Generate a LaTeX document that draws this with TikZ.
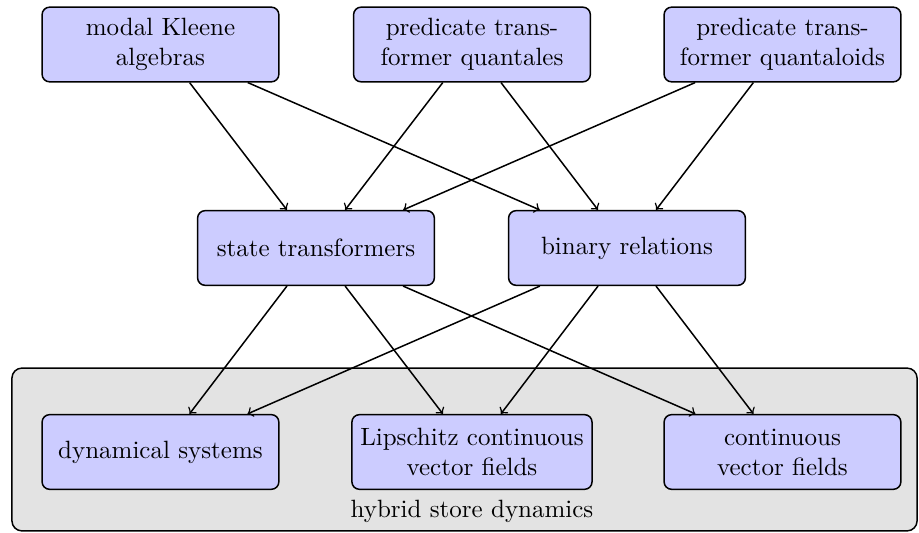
\documentclass[tikz,border=0pt]{standalone}
\usepackage{xcolor}
\usepackage{tikz}

\begin{document}
\begin{tikzpicture}[
  theory/.style={rectangle,rounded corners=3pt,draw,semithick,fill=blue!20,
    minimum width=3.33cm,minimum height=1.05cm,align=center},
  group/.style={rectangle,rounded corners=4pt,draw,semithick,fill=black!11,
    minimum width=12.73cm,minimum height=2.29cm},
  every path/.style={semithick}]
\useasboundingbox (0,0) rectangle (12.925,7.496);
\node (grp) at (6.533,1.174) [group] {};
\node (lbl) at (6.638,0.30) {hybrid store dynamics};
\node (mka)  at ( 2.257,6.87) [theory] {modal Kleene\\algebras};
\node (ptq)  at ( 6.638,6.87) [theory] {predicate trans-\\former quantales};
\node (ptqd) at (11.005,6.87) [theory] {predicate trans-\\former quantaloids};
\node (st) at (4.444,4.008) [theory] {state transformers};
\node (br) at (8.818,4.008) [theory] {binary relations};
\node (ds)  at ( 2.257,1.139) [theory] {dynamical systems};
\node (lip) at ( 6.638,1.139) [theory] {Lipschitz continuous\\vector fields};
\node (cvf) at (11.005,1.139) [theory] {continuous\\vector fields};
\draw[->] (mka) -- (st);
\draw[->] (mka) -- (br);
\draw[->] (ptq) -- (st);
\draw[->] (ptq) -- (br);
\draw[->] (ptqd) -- (st);
\draw[->] (ptqd) -- (br);
\draw[->] (st) -- (ds);
\draw[->] (st) -- (lip);
\draw[->] (st) -- (cvf);
\draw[->] (br) -- (ds);
\draw[->] (br) -- (lip);
\draw[->] (br) -- (cvf);
\end{tikzpicture}
\end{document}
